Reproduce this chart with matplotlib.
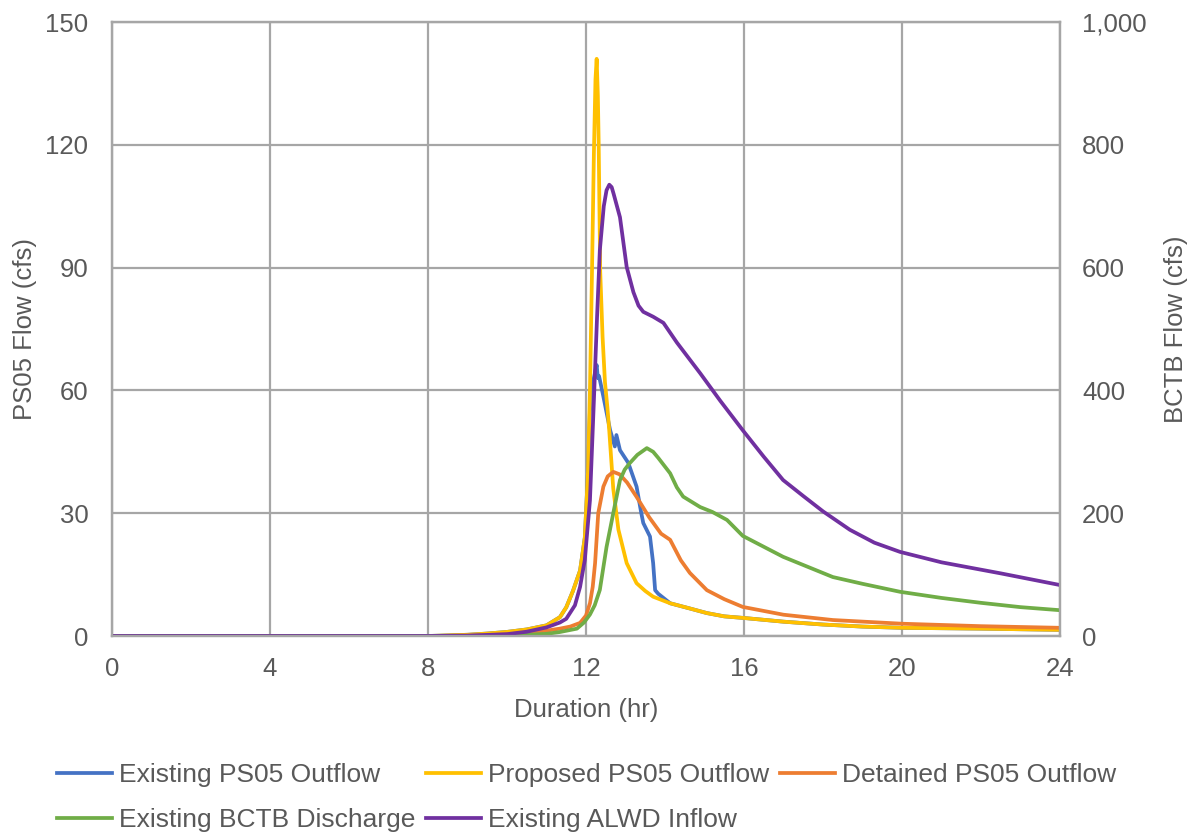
import matplotlib
matplotlib.use("Agg")
import matplotlib.pyplot as plt
from matplotlib.ticker import FuncFormatter

plt.rcParams["font.family"] = ["Liberation Sans", "DejaVu Sans"]
TXT = "#595959"
FS = 18.5

# Existing PS05 Outflow (left axis, cfs)
t_exist = [0, 8, 9, 9.5, 10, 10.5, 11, 11.34, 11.5, 11.67, 11.85, 11.97, 12.05, 12.1, 12.16, 12.22,
           12.27, 12.3, 12.33, 12.44, 12.61, 12.73, 12.77, 12.86, 13.07, 13.28, 13.4, 13.45, 13.62,
           13.7, 13.75, 13.83, 14.13, 14.6, 15.06, 15.5, 16.0, 17, 18, 19, 20, 22, 24]
q_exist = [0, 0, 0.3, 0.6, 1.0, 1.6, 2.6, 4.6, 7, 11, 16, 24, 40, 55, 61, 64,
           66.2, 63, 63.5, 58.5, 50.3, 46.3, 49.1, 45.4, 42.3, 36.5, 30, 27.6, 24.3,
           17.8, 11.2, 10.3, 8.0, 6.8, 5.6, 4.8, 4.4, 3.5, 2.8, 2.3, 2.0, 1.8, 1.5]

# Proposed PS05 Outflow (left axis, cfs)
t_prop = [0, 8, 9, 9.5, 10, 10.5, 11, 11.34, 11.5, 11.67, 11.85, 11.97, 12.05, 12.1, 12.15, 12.2,
          12.24, 12.27, 12.3, 12.32, 12.36, 12.42, 12.48, 12.54, 12.59, 12.69, 12.82, 13.03, 13.28,
          13.5, 13.7, 14.13, 14.6, 15.06, 15.5, 16.0, 17, 18, 19, 20, 22, 24]
q_prop = [0, 0, 0.3, 0.6, 1.0, 1.6, 2.6, 4.6, 7, 11, 16, 24, 40, 60, 88, 118,
          136, 141, 132, 121, 89, 73, 62, 56, 50, 36, 26, 17.8, 12.9,
          11, 9.6, 8.0, 6.8, 5.6, 4.8, 4.4, 3.5, 2.8, 2.3, 2.0, 1.8, 1.5]

# Detained PS05 Outflow (left axis, cfs)
t_det = [0, 8, 9, 10, 10.5, 11, 11.34, 11.6, 11.85, 12.0, 12.1, 12.17, 12.23, 12.31, 12.44, 12.55,
         12.69, 12.85, 13.04, 13.28, 13.6, 13.9, 14.13, 14.4, 14.63, 15.06, 15.5, 15.97, 17, 18.25,
         20, 22, 24]
q_det = [0, 0, 0.1, 0.4, 0.8, 1.3, 1.8, 2.3, 3.2, 5.0, 8.0, 12, 17.8, 30, 36.5, 39,
         40.1, 39.5, 37.5, 34, 29, 25, 23.5, 18.5, 15.4, 11.2, 9.0, 7.1, 5.2, 3.9,
         3.0, 2.4, 2.0]

# Existing BCTB Discharge (right axis, cfs)
t_bctb = [0, 8, 9, 10, 10.5, 11, 11.34, 11.77, 11.95, 12.1, 12.22, 12.35, 12.52, 12.69, 12.86, 12.98,
          13.1, 13.3, 13.54, 13.7, 13.83, 14.13, 14.3, 14.46, 14.89, 15.2, 15.57, 15.97, 16.99,
          18.25, 19.0, 19.95, 21, 22, 23, 24]
q_bctb = [0, 0, 0.3, 1.0, 2.0, 3.5, 6.5, 12, 22, 35, 50, 75, 145, 200, 254, 271,
          281, 295, 306, 300, 290, 265, 242, 227, 210, 202, 189, 163, 129,
          96, 85, 72, 62, 54, 47, 42]

# Existing ALWD Inflow (right axis, cfs)
t_alwd = [0, 8, 9, 10, 10.5, 11, 11.34, 11.5, 11.72, 11.85, 11.97, 12.1, 12.2, 12.28, 12.35, 12.45,
          12.52, 12.59, 12.65, 12.7, 12.86, 13.03, 13.2, 13.33, 13.45, 13.7, 13.96, 14.3, 14.63,
          14.89, 15.4, 15.97, 16.5, 16.99, 17.5, 18.0, 18.68, 19.3, 19.95, 21, 22.5, 24]
q_alwd = [0, 0, 0.5, 3, 7, 14, 22, 28, 50, 80, 124, 221, 384, 520, 628, 700,
          726, 735, 731, 720, 682, 601, 560, 538, 528, 520, 510, 478, 450,
          428, 383, 335, 292, 254, 228, 203, 173, 152, 137, 120, 102, 83]

x_ticks = [0, 4, 8, 12, 16, 20, 24]
left_ticks = [0, 30, 60, 90, 120, 150]
right_ticks = [0, 200, 400, 600, 800, 1000]

fig = plt.figure(figsize=(11.95, 8.35), dpi=100)
ax = fig.add_axes([112 / 1195, 1 - 636 / 835, (1060 - 112) / 1195, (636 - 22) / 835])
ax2 = ax.twinx()

ax.plot(t_exist, q_exist, color="#4472C4", lw=2.7, label="Existing PS05 Outflow")
ax.plot(t_prop, q_prop, color="#FFC000", lw=2.7, label="Proposed PS05 Outflow")
ax.plot(t_det, q_det, color="#ED7D31", lw=2.7, label="Detained PS05 Outflow")
ax2.plot(t_bctb, q_bctb, color="#70AD47", lw=2.7, label="Existing BCTB Discharge")
ax2.plot(t_alwd, q_alwd, color="#7030A0", lw=2.7, label="Existing ALWD Inflow")

ax.set_xlim(0, 24)
ax.set_ylim(0, 150)
ax2.set_ylim(0, 1000)
ax.set_xticks(x_ticks)
ax.set_yticks(left_ticks)
ax2.set_yticks(right_ticks)
ax2.yaxis.set_major_formatter(FuncFormatter(lambda v, p: f"{int(v):,}"))

ax.grid(True, color="#A6A6A6", lw=1.6)
ax.set_axisbelow(True)
for a in (ax, ax2):
    for s in a.spines.values():
        s.set_color("#A6A6A6")
        s.set_linewidth(1.6)
    a.tick_params(length=0, labelsize=FS, labelcolor=TXT)
ax.tick_params(axis="x", pad=15)
ax.tick_params(axis="y", pad=17)
ax2.tick_params(axis="y", pad=16)

ax.set_xlabel("Duration (hr)", fontsize=FS, color=TXT, labelpad=12)
ax.set_ylabel("PS05 Flow (cfs)", fontsize=FS, color=TXT, labelpad=6)
ax2.set_ylabel("BCTB Flow (cfs)", fontsize=FS, color=TXT, labelpad=12)

# legend filled row by row (matplotlib fills columns first)
h1, l1 = ax.get_legend_handles_labels()
h2, l2 = ax2.get_legend_handles_labels()
hs, ls = h1 + h2, l1 + l2
order = [0, 3, 1, 4, 2]
leg = fig.legend([hs[i] for i in order], [ls[i] for i in order], loc="upper left",
                 bbox_to_anchor=(57 / 1195, 1 - 763 / 835),
                 ncol=3, frameon=False, fontsize=19, handlelength=2.1, handletextpad=0.25,
                 columnspacing=0.4, labelspacing=0.8, borderpad=0, borderaxespad=0)
for t in leg.get_texts():
    t.set_color(TXT)

fig.savefig("out.png", dpi=100)
